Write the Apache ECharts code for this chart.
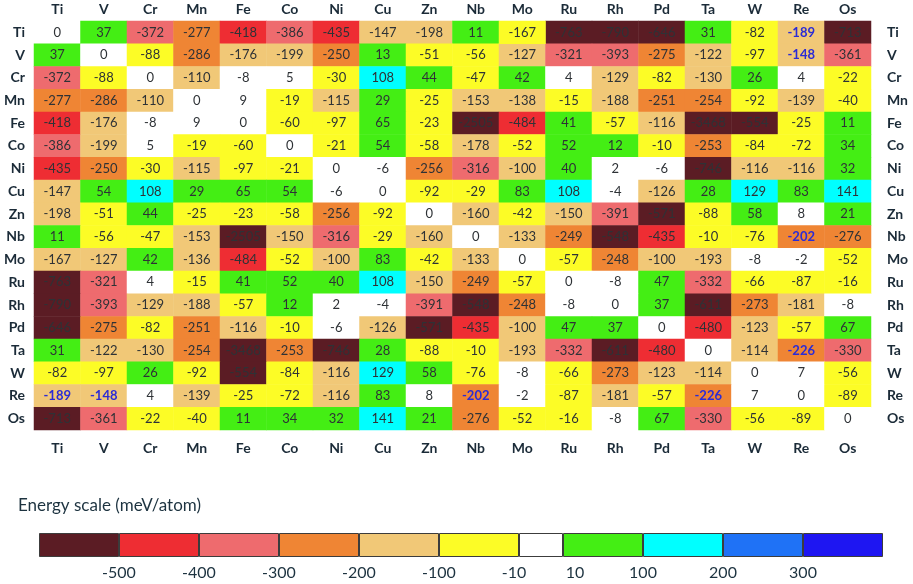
<!DOCTYPE html>
<html>
<head>
<meta charset="utf-8">
<title>Mixing energy matrix</title>
<script src="https://cdn.jsdelivr.net/npm/echarts@6/dist/echarts.min.js"></script>
<style>
  html, body { margin: 0; padding: 0; background: #fff; }
  #chart { width: 913px; height: 584px; }
</style>
</head>
<body>
<div id="chart"></div>
<script>
// elements, same order on both axes
var elements = ['Ti', 'V', 'Cr', 'Mn', 'Fe', 'Co', 'Ni', 'Cu', 'Zn', 'Nb', 'Mo', 'Ru', 'Rh', 'Pd', 'Ta', 'W', 'Re', 'Os'];

// energies (meV/atom), one row per element
var rowTi = [0, 37, -372, -277, -418, -386, -435, -147, -198, 11, -167, -763, -790, -646, 31, -82, -189, -713];
var rowV  = [37, 0, -88, -286, -176, -199, -250, 13, -51, -56, -127, -321, -393, -275, -122, -97, -148, -361];
var rowCr = [-372, -88, 0, -110, -8, 5, -30, 108, 44, -47, 42, 4, -129, -82, -130, 26, 4, -22];
var rowMn = [-277, -286, -110, 0, 9, -19, -115, 29, -25, -153, -138, -15, -188, -251, -254, -92, -139, -40];
var rowFe = [-418, -176, -8, 9, 0, -60, -97, 65, -23, -2505, -484, 41, -57, -116, -3468, -554, -25, 11];
var rowCo = [-386, -199, 5, -19, -60, 0, -21, 54, -58, -178, -52, 52, 12, -10, -253, -84, -72, 34];
var rowNi = [-435, -250, -30, -115, -97, -21, 0, -6, -256, -316, -100, 40, 2, -6, -746, -116, -116, 32];
var rowCu = [-147, 54, 108, 29, 65, 54, -6, 0, -92, -29, 83, 108, -4, -126, 28, 129, 83, 141];
var rowZn = [-198, -51, 44, -25, -23, -58, -256, -92, 0, -160, -42, -150, -391, -571, -88, 58, 8, 21];
var rowNb = [11, -56, -47, -153, -2505, -150, -316, -29, -160, 0, -133, -249, -548, -435, -10, -76, -202, -276];
var rowMo = [-167, -127, 42, -136, -484, -52, -100, 83, -42, -133, 0, -57, -248, -100, -193, -8, -2, -52];
var rowRu = [-763, -321, 4, -15, 41, 52, 40, 108, -150, -249, -57, 0, -8, 47, -332, -66, -87, -16];
var rowRh = [-790, -393, -129, -188, -57, 12, 2, -4, -391, -548, -248, -8, 0, 37, -611, -273, -181, -8];
var rowPd = [-646, -275, -82, -251, -116, -10, -6, -126, -571, -435, -100, 47, 37, 0, -480, -123, -57, 67];
var rowTa = [31, -122, -130, -254, -3468, -253, -746, 28, -88, -10, -193, -332, -611, -480, 0, -114, -226, -330];
var rowW  = [-82, -97, 26, -92, -554, -84, -116, 129, 58, -76, -8, -66, -273, -123, -114, 0, 7, -56];
var rowRe = [-189, -148, 4, -139, -25, -72, -116, 83, 8, -202, -2, -87, -181, -57, -226, 7, 0, -89];
var rowOs = [-713, -361, -22, -40, 11, 34, 32, 141, 21, -276, -52, -16, -8, 67, -330, -56, -89, 0];

var matrix = [rowTi, rowV, rowCr, rowMn, rowFe, rowCo, rowNi, rowCu, rowZn,
              rowNb, rowMo, rowRu, rowRh, rowPd, rowTa, rowW, rowRe, rowOs];

// pairs printed in blue in the figure
var markedPairs = [['Ti', 'Re'], ['V', 'Re'], ['Nb', 'Re'], ['Ta', 'Re']];
// cell coloured off the scale in the figure (row, column)
var offScaleCells = [['Ti', 'Mo']];

// energy scale
var scaleBounds = [-500, -400, -300, -200, -100, -10, 10, 100, 200, 300];
var scaleColors = ['#5b1c24', '#ee2d33', '#ee6b6e', '#ef8534', '#f1c877', '#fcfc26',
                   '#ffffff', '#44ee14', '#00ffff', '#1f72f6', '#1e16f2'];

// build visualMap pieces: negative edges belong to the lower box, positive to the upper
var pieces = [];
for (var k = 0; k <= scaleBounds.length; k++) {
  var p = { color: scaleColors[k] };
  var lo = scaleBounds[k - 1], hi = scaleBounds[k];
  if (lo !== undefined) { if (lo < 0) p.gt = lo; else p.gte = lo; }
  if (hi !== undefined) { if (hi <= 0) p.lte = hi; else p.lt = hi; }
  pieces.push(p);
}

function inPairs(list, a, b, both) {
  for (var n = 0; n < list.length; n++) {
    if (list[n][0] === a && list[n][1] === b) return true;
    if (both && list[n][0] === b && list[n][1] === a) return true;
  }
  return false;
}

var cells = [], offCells = [];
for (var i = 0; i < elements.length; i++) {
  for (var j = 0; j < elements.length; j++) {
    var item = { value: [j, i, matrix[i][j]] };
    if (inPairs(markedPairs, elements[i], elements[j], true)) {
      item.label = { color: '#2b2bd6', fontWeight: 'bold' };
    }
    if (inPairs(offScaleCells, elements[i], elements[j], false)) {
      item.itemStyle = { color: scaleColors[5] };
      offCells.push(item);
    } else {
      cells.push(item);
    }
  }
}

// colour bar: equal boxes, the white one narrower
var narrowBox = 0.55;
var boxWidths = scaleColors.map(function (c) { return c === '#ffffff' ? narrowBox : 1; });
var barTotal = boxWidths.reduce(function (a, b) { return a + b; }, 0);
var labelShift = { '-10': -5, '10': 12 };

var barSeries = scaleColors.map(function (c, k) {
  var s = {
    type: 'bar',
    xAxisIndex: 2,
    yAxisIndex: 2,
    stack: 'scale',
    barWidth: 24,
    silent: true,
    data: [boxWidths[k]],
    itemStyle: { color: c, borderColor: '#3c3c3c', borderWidth: 1 }
  };
  if (k > 0) {
    var txt = String(scaleBounds[k - 1]);
    s.label = {
      show: true,
      position: [0, 40],
      align: 'center',
      verticalAlign: 'middle',
      offset: [labelShift[txt] || 0, 0],
      formatter: txt,
      fontSize: 16,
      color: '#1d3340',
      fontFamily: 'Lato, "Open Sans", sans-serif'
    };
  }
  return s;
});

var axisText = {
  fontSize: 14,
  fontWeight: 'bold',
  color: '#1b2b38',
  fontFamily: 'Lato, "Open Sans", sans-serif'
};

function catAxis(pos, margin, extra) {
  var a = {
    type: 'category',
    data: elements,
    position: pos,
    gridIndex: 0,
    axisLine: { show: false },
    axisTick: { show: false },
    splitLine: { show: false },
    axisLabel: Object.assign({ margin: margin, interval: 0 }, axisText)
  };
  return Object.assign(a, extra || {});
}

var cellLabel = {
  show: true,
  formatter: function (prm) { return prm.value[2]; },
  fontSize: 13,
  color: '#2e3236',
  fontFamily: 'Lato, "Open Sans", sans-serif'
};

var chart = echarts.init(document.getElementById('chart'));
chart.setOption({
  animation: false,
  title: {
    text: 'Energy scale (meV/atom)',
    left: 13,
    top: 492,
    textStyle: { fontSize: 17, fontWeight: 'normal', color: '#1d3340', fontFamily: 'Lato, "Open Sans", sans-serif' }
  },
  grid: [
    { left: 34, right: 42, top: 21, bottom: 154 },
    { left: 39, right: 30, top: 533, height: 24 }
  ],
  xAxis: [
    catAxis('top', 5),
    catAxis('bottom', 11),
    { type: 'value', gridIndex: 1, min: 0, max: barTotal, show: false }
  ],
  yAxis: [
    catAxis('left', 9, { inverse: true }),
    catAxis('right', 16, { inverse: true }),
    { type: 'category', gridIndex: 1, data: ['scale'], show: false }
  ],
  visualMap: {
    type: 'piecewise',
    show: false,
    dimension: 2,
    seriesIndex: 0,
    pieces: pieces
  },
  series: [
    {
      type: 'heatmap',
      xAxisIndex: 0,
      yAxisIndex: 0,
      data: cells,
      label: cellLabel,
      itemStyle: { borderWidth: 0 }
    },
    {
      type: 'heatmap',
      xAxisIndex: 0,
      yAxisIndex: 0,
      data: offCells,
      label: cellLabel,
      itemStyle: { borderWidth: 0 }
    }
  ].concat(barSeries)
});
</script>
</body>
</html>
